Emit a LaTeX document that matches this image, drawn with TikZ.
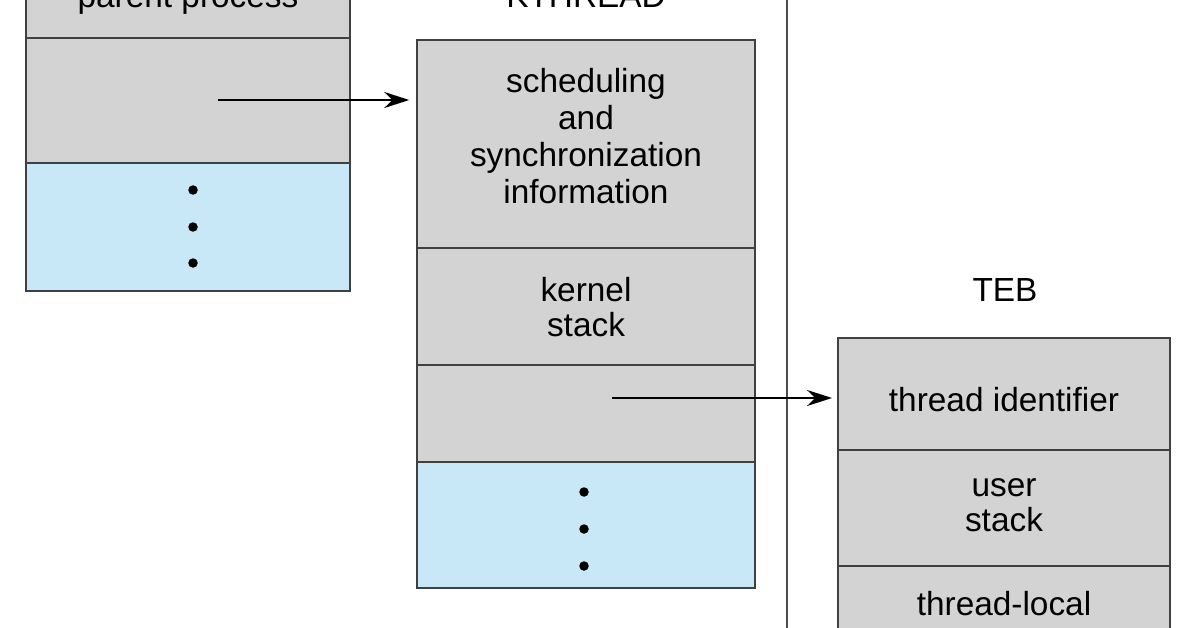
\documentclass[tikz,border=0pt]{standalone}
\usepackage{fontspec}
\setmainfont{Liberation Sans}
\usetikzlibrary{positioning}
\definecolor{boxgray}{RGB}{211,211,211}
\definecolor{boxblue}{RGB}{200,232,248}
\tikzset{
  blk/.style={draw=black!75, line width=0.8pt, fill=boxgray, inner sep=0pt, align=center,
    font=\fontsize{19}{21}\selectfont},
  lbl/.style={font=\fontsize{19}{21}\selectfont},
  ptr/.style={-{Stealth[length=5mm,width=3.2mm]}, line width=1.2pt},
  dotc/.style={circle, fill=black, inner sep=0pt, minimum size=1.9mm}
}
\usetikzlibrary{arrows.meta}
\begin{document}
\begin{tikzpicture}[x=0.02cm, y=-0.02cm]
  \useasboundingbox (0,0) rectangle (1196,628);
  \clip (0,0) rectangle (1196,628);
  % parent process
  \node[blk, minimum width=324*0.02cm, minimum height=80*0.02cm] (pp) at (188,-2) {};
  \node[lbl] (pplabel) at (188,0) {parent process};
  \node[blk, minimum width=324*0.02cm, minimum height=125*0.02cm] (ppptr) at (188,100.5) {};
  \node[blk, fill=boxblue, minimum width=324*0.02cm, minimum height=128*0.02cm] (ppmore) at (188,227) {};
  \foreach \y in {190,227,263} \node[dotc] at (193,\y) {};
  % KTHREAD
  \node[lbl] (ktlabel) at (586,-4) {KTHREAD};
  \node[blk, minimum width=338*0.02cm, minimum height=208*0.02cm] (sched) at (586,144) {};
  \node[lbl, align=center] (schedtext) at (586,136) {scheduling\\[0pt]and\\[0pt]synchronization\\[0pt]information};
  \node[blk, minimum width=338*0.02cm, minimum height=117*0.02cm] (kstack) at (586,306.5) {};
  \node[lbl, align=center] (kstext) at (586,307) {kernel\\[-1pt]stack};
  \node[blk, minimum width=338*0.02cm, minimum height=97*0.02cm] (ktptr) at (586,413.5) {};
  \node[blk, fill=boxblue, minimum width=338*0.02cm, minimum height=126*0.02cm] (ktmore) at (586,525) {};
  \foreach \y in {492,529,566} \node[dotc] at (584,\y) {};
  % divider
  \draw[line width=0.8pt, black!70] (787,0) -- (787,628);
  % TEB
  \node[lbl] (teblabel) at (1005,290) {TEB};
  \node[blk, minimum width=332*0.02cm, minimum height=112*0.02cm] (tid) at (1004,394) {};
  \node[lbl] (tidtext) at (1004,400) {thread identifier};
  \node[blk, minimum width=332*0.02cm, minimum height=116*0.02cm] (ustack) at (1004,508) {};
  \node[lbl, align=center] (ustext) at (1004,505) {user\\[-1pt]stack};
  \node[blk, minimum width=332*0.02cm, minimum height=100*0.02cm, anchor=north] (tls) at (1004,566) {};
  \node[lbl] (tlstext) at (1004,604) {thread-local};
  % pointers
  \coordinate (ppsrc) at (218,100);
  \coordinate (ktsrc) at (612,398);
  \draw[ptr] (ppsrc) -- ([xshift=-4]sched.west |- ppsrc);
  \draw[ptr] (ktsrc) -- ([xshift=-3]tid.west |- ktsrc);
\end{tikzpicture}
\end{document}
